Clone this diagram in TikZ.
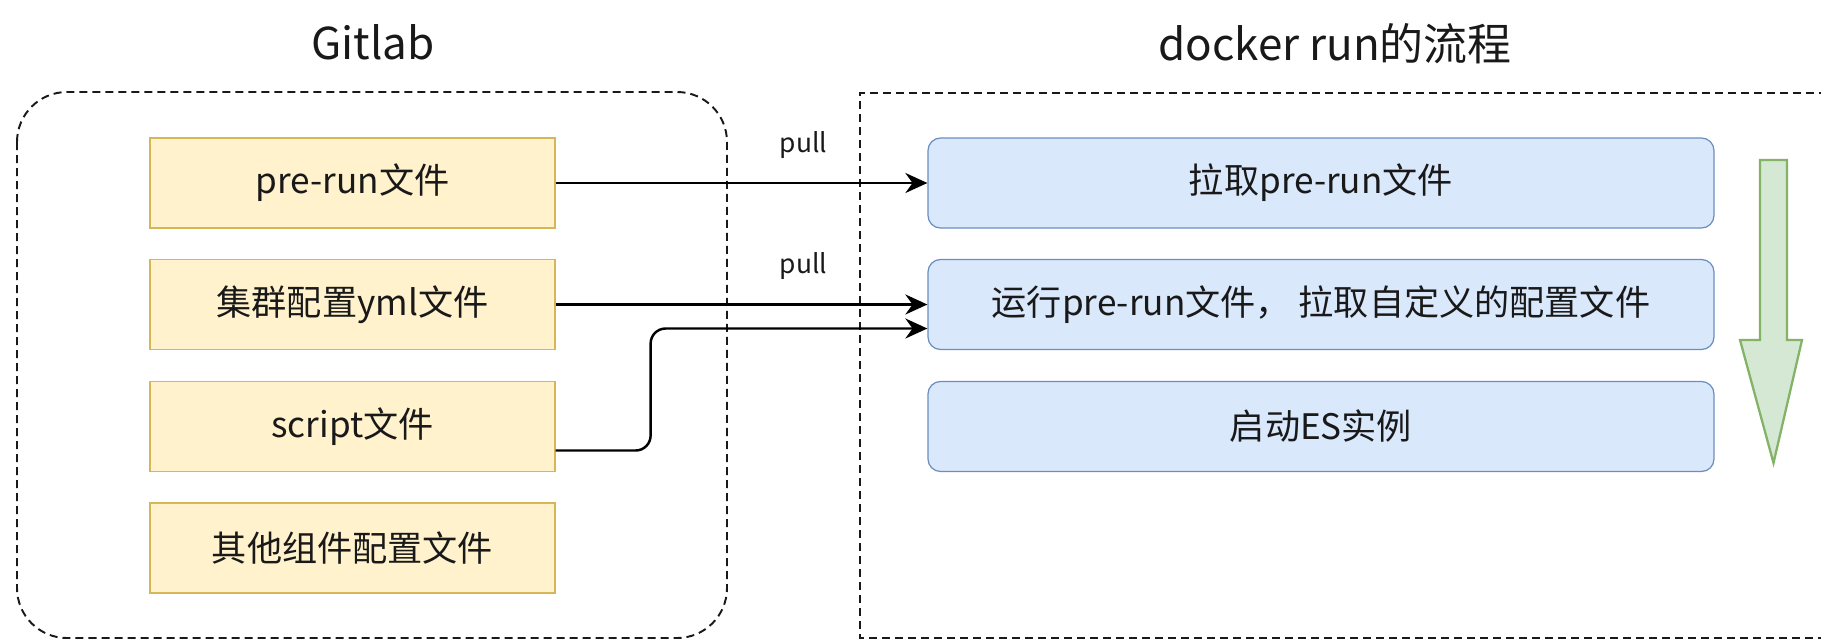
\documentclass[tikz,border=0pt]{standalone}
\usepackage{fontspec}
\setmainfont{Noto Sans CJK SC}
\usetikzlibrary{positioning, arrows.meta}
\definecolor{fileFill}{HTML}{FFF2CC}
\definecolor{fileDraw}{HTML}{D6B656}
\definecolor{flowFill}{HTML}{DAE8FC}
\definecolor{flowDraw}{HTML}{6C8EBF}
\definecolor{downFill}{HTML}{D5E8D4}
\definecolor{downDraw}{HTML}{82B366}
\tikzset{
    group title/.style = {font=\fontsize{25}{30}\selectfont, text=black!90},
    group frame/.style = {draw=black!90, line width=1.1pt, dash pattern=on 0.16cm off 0.1cm},
}
\tikzset{
    file box/.style = {draw=fileDraw, fill=fileFill, line width=0.7pt, minimum width=8.1cm, minimum height=1.8cm, font=\fontsize{20}{24}\selectfont, text=black!90},
    flow box/.style = {draw=flowDraw, fill=flowFill, line width=0.7pt, rounded corners=0.25cm, minimum width=15.72cm, minimum height=1.8cm, font=\fontsize{20}{24}\selectfont, text=black!90},
    pull edge/.style = {draw, line width=1.4pt, -{Stealth[length=4.4mm, width=4mm]}},
    pull label/.style = {above=0.35cm, font=\fontsize{15}{18}\selectfont, text=black!90},
}

\begin{document}
\begin{tikzpicture}
    \useasboundingbox (0,0) rectangle (36.42,-12.84);

    \node[group title] (gitlab) at (7.46,-0.85) {Gitlab};
    \node[group title] (docker) at (26.7,-0.88) {docker run的流程};

    \draw[group frame, rounded corners=1cm] (0.34,-1.84) rectangle (14.54,-12.76);
    \draw[group frame] (36.8,-1.86) -- (17.2,-1.86) -- (17.2,-12.76) -- (36.8,-12.76);

    \node[file box] (prerun) at (7.05,-3.66) {pre-run文件};
    \node[file box] (cluster) at (7.05,-6.09) {集群配置yml文件};
    \node[file box] (script) at (7.05,-8.53) {script文件};
    \node[file box] (other) at (7.05,-10.96) {其他组件配置文件};

    \node[flow box] (fetch) at (26.42,-3.66) {拉取pre-run文件};
    \node[flow box] (run) at (26.42,-6.09) {运行pre-run文件， 拉取自定义的配置文件};
    \node[flow box] (start) at (26.42,-8.53) {启动ES实例};

    \draw[pull edge] (prerun) -- node[pull label, pos=0.667] {pull} (fetch);
    \draw[pull edge] (cluster) -- node[pull label, pos=0.667] {pull} (run);
    \draw[pull edge, rounded corners=0.3cm] ([yshift=-0.48cm]script.east) -- ++(1.9,0) |- ([yshift=-0.48cm]run.west);

    \filldraw[fill=downFill, draw=downDraw, line width=1.3pt] (35.2,-3.2) -- (35.74,-3.2) -- (35.74,-6.8) -- (36.04,-6.8)
        -- (35.47,-9.26) -- (34.8,-6.8) -- (35.2,-6.8) -- cycle;
\end{tikzpicture}
\end{document}
